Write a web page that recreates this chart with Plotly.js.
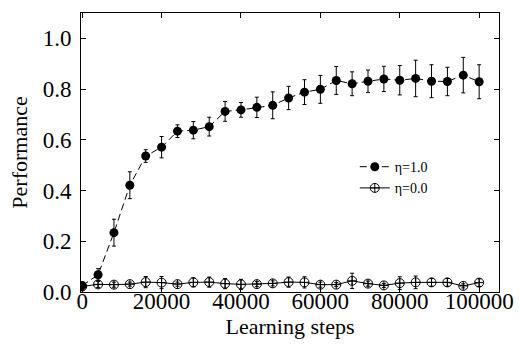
<!DOCTYPE html>
<html>
<head>
<meta charset="utf-8">
<script src="https://cdn.plot.ly/plotly-3.0.1.min.js"></script>
<style>html,body{margin:0;padding:0;background:#fff;}#chart{width:519px;height:345px;}</style>
</head>
<body>
<div id="chart"></div>
<script>
const steps = [0,4000,8000,12000,16000,20000,24000,28000,32000,36000,40000,44000,48000,52000,56000,60000,64000,68000,72000,76000,80000,84000,88000,92000,96000,100000];
const eta1 = [0.025,0.068,0.234,0.421,0.536,0.571,0.634,0.638,0.652,0.712,0.718,0.728,0.736,0.765,0.788,0.799,0.834,0.821,0.831,0.840,0.835,0.842,0.831,0.830,0.855,0.829];
const eta1Err = [0.015,0.024,0.053,0.053,0.025,0.042,0.025,0.034,0.037,0.039,0.029,0.040,0.053,0.046,0.049,0.055,0.055,0.047,0.044,0.050,0.058,0.072,0.065,0.056,0.070,0.067];
const eta0 = [0.022,0.030,0.029,0.031,0.039,0.037,0.031,0.038,0.039,0.033,0.030,0.031,0.034,0.039,0.038,0.029,0.029,0.044,0.033,0.026,0.035,0.038,0.038,0.038,0.024,0.037];
const eta0Err = [0.015,0.012,0.010,0.008,0.022,0.024,0.008,0.018,0.020,0.020,0.020,0.010,0.010,0.020,0.022,0.010,0.008,0.030,0.010,0.008,0.025,0.025,0.015,0.015,0.008,0.015];
const names = ['η=1.0','η=0.0'];

const font = '"Liberation Serif", "Times New Roman", serif';
const traces = [
  {
    x: steps, y: eta1, name: names[0], type: 'scatter', mode: 'lines+markers',
    line: {color: '#000', width: 1, dash: '7px,4px'},
    marker: {symbol: 'circle', size: 9, color: '#000'},
    error_y: {type: 'data', array: eta1Err, visible: true, color: '#000', thickness: 1, width: 2}
  },
  {
    x: steps, y: eta0, name: names[1], type: 'scatter', mode: 'lines+markers',
    line: {color: '#000', width: 1},
    marker: {symbol: 'circle-cross-open', size: 9, color: '#000', line: {width: 1, color: '#000'}},
    error_y: {type: 'data', array: eta0Err, visible: true, color: '#000', thickness: 1, width: 2}
  }
];

const layout = {
  width: 519, height: 345,
  margin: {l: 81, r: 20, t: 13, b: 53},
  paper_bgcolor: '#fff', plot_bgcolor: '#fff',
  font: {family: font, size: 22, color: '#000'},
  showlegend: true,
  legend: {x: 0.655, y: 0.505, xanchor: 'left', yanchor: 'top', bgcolor: 'rgba(0,0,0,0)',
           font: {family: font, size: 14, color: '#000'}, tracegroupgap: 0, itemwidth: 30},
  xaxis: {
    range: [-300, 105000], tickvals: [0,20000,40000,60000,80000,100000],
    ticktext: ['0','20000','40000','60000','80000','100000'],
    ticks: 'inside', ticklen: 5, tickcolor: '#000', showline: true, linecolor: '#000', linewidth: 1,
    mirror: 'ticks', showgrid: false, zeroline: false, ticklabelstandoff: -12,
    title: {text: 'Learning steps', font: {family: font, size: 22}, standoff: 4},
    tickfont: {family: font, size: 23}
  },
  yaxis: {
    range: [0, 1.1], tickvals: [0,0.2,0.4,0.6,0.8,1.0],
    ticktext: ['0.0','0.2','0.4','0.6','0.8','1.0'],
    ticks: 'inside', ticklen: 5, tickcolor: '#000', showline: true, linecolor: '#000', linewidth: 1,
    mirror: 'ticks', showgrid: false, zeroline: false, ticklabelstandoff: 4,
    title: {text: 'Performance', font: {family: font, size: 22}, standoff: 8},
    tickfont: {family: font, size: 23}
  }
};
Plotly.newPlot('chart', traces, layout, {displayModeBar: false, staticPlot: true});
</script>
</body>
</html>
